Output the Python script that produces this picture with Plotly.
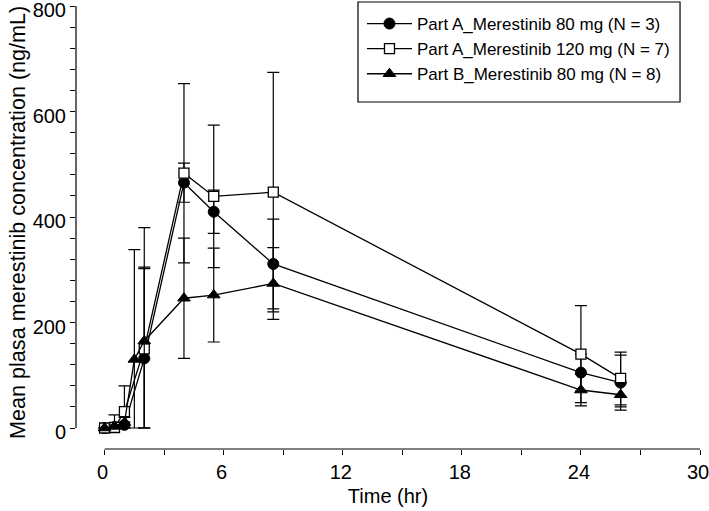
import numpy as np
import plotly.graph_objects as go

# ---------------- data ----------------
time_a80 = [0, 0.5, 1, 2, 4, 5.5, 8.5, 24, 26]
mean_a80 = [0, 2, 6, 132, 465, 410, 311, 105, 86]
sd_a80 = [0, 3, 5, 170, 37, 41, 85, 35, 52]

time_a120 = [0, 0.5, 1, 2, 4, 5.5, 8.5, 24, 26]
mean_a120 = [0, 1, 31, 150, 483, 439, 447, 140, 94]
sd_a120 = [0, 24, 49, 155, 170, 135, 227, 92, 50]

time_b80 = [0, 0.5, 1, 1.5, 2, 4, 5.5, 8.5, 24, 26]
mean_b80 = [0, 3, 10, 130, 165, 246, 252, 274, 72, 63]
sd_b80 = [0, 3, 10, 208, 215, 114, 89, 68, 30, 23]

names = ["Part A_Merestinib 80 mg (N = 3)",
         "Part A_Merestinib 120 mg (N = 7)",
         "Part B_Merestinib 80 mg (N = 8)"]

x_ticks = [0, 6, 12, 18, 24, 30]
y_ticks = [0, 200, 400, 600, 800]

X_MAX, Y_MAX = 30, 800
X_PAD, Y_PAD = 1.44, 39.8  # offset of the axes away from the data origin

FONT = "Liberation Sans, Arial, sans-serif"

fig = go.Figure()

series = [
    (time_a80, mean_a80, sd_a80, dict(symbol="circle", size=11, color="black",
                                      line=dict(color="black", width=1))),
    (time_a120, mean_a120, sd_a120, dict(symbol="square", size=10, color="white",
                                         line=dict(color="black", width=1.3))),
    (time_b80, mean_b80, sd_b80, dict(symbol="triangle-up", size=11, color="black",
                                      line=dict(color="black", width=1))),
]

for (t, m, s, mk), nm in zip(series, names):
    m_arr = np.array(m, dtype=float)
    s_arr = np.array(s, dtype=float)
    fig.add_trace(go.Scatter(
        x=t, y=m, name=nm, mode="lines+markers",
        line=dict(color="black", width=1.3),
        marker=mk,
        cliponaxis=False,
        error_y=dict(type="data", symmetric=False, array=s_arr,
                     arrayminus=np.minimum(s_arr, m_arr),
                     color="black", thickness=1.2, width=6),
    ))

fig.update_layout(
    width=709, height=511,
    margin=dict(l=76, r=9, t=6, b=62, autoexpand=False),
    plot_bgcolor="white", paper_bgcolor="white",
    font=dict(family=FONT, size=20, color="black"),
    showlegend=True,
    legend=dict(x=0.4583, y=1.0, xanchor="left", yanchor="top",
                borderwidth=0,
                font=dict(family=FONT, size=17, color="black"),
                bgcolor="rgba(0,0,0,0)", tracegroupgap=0, itemwidth=45),
    xaxis=dict(range=[-X_PAD, X_MAX], tickvals=x_ticks, ticks="outside",
               ticklen=5, tickwidth=1, tickcolor="black", showgrid=False,
               zeroline=False, showline=False, automargin=False,
               ticklabeloverflow="allow", ticklabelshift=-2,
               minor=dict(dtick=3, ticks="outside", ticklen=5, tickcolor="black",
                          showgrid=False, tick0=0),
               title=dict(text="Time (hr)", font=dict(size=20), standoff=6),
               tickfont=dict(size=20)),
    yaxis=dict(range=[-Y_PAD, Y_MAX], tickvals=y_ticks, ticks="outside",
               ticklen=5, tickwidth=1, tickcolor="black", showgrid=False,
               zeroline=False, showline=False, automargin=False,
               ticklabeloverflow="allow", ticklabelshift=4,
               minor=dict(dtick=40, ticks="outside", ticklen=5, tickcolor="black",
                          showgrid=False, tick0=0),
               tickfont=dict(size=20)),
    annotations=[
        dict(text="Mean plasa merestinib concentration (ng/mL)", textangle=-90,
             xref="paper", yref="paper", x=-0.0946, y=0.5124,
             xanchor="center", yanchor="middle", showarrow=False,
             font=dict(family=FONT, size=21.6, color="black")),
    ],
    shapes=[
        dict(type="line", xref="x", yref="paper", x0=0, x1=X_MAX, y0=0, y1=0,
             line=dict(color="black", width=1.2)),
        dict(type="line", xref="paper", yref="y", x0=0, x1=0, y0=0, y1=Y_MAX,
             line=dict(color="black", width=1.2)),
        # legend frame
        dict(type="rect", xref="paper", yref="paper", x0=0.4519, x1=0.968,
             y0=0.7833, y1=1.009, line=dict(color="black", width=1.2),
             fillcolor="rgba(0,0,0,0)", layer="above"),
    ],
)

fig.write_html("out.html", config={"displayModeBar": False},
               post_script="document.body.style.margin='0';")
